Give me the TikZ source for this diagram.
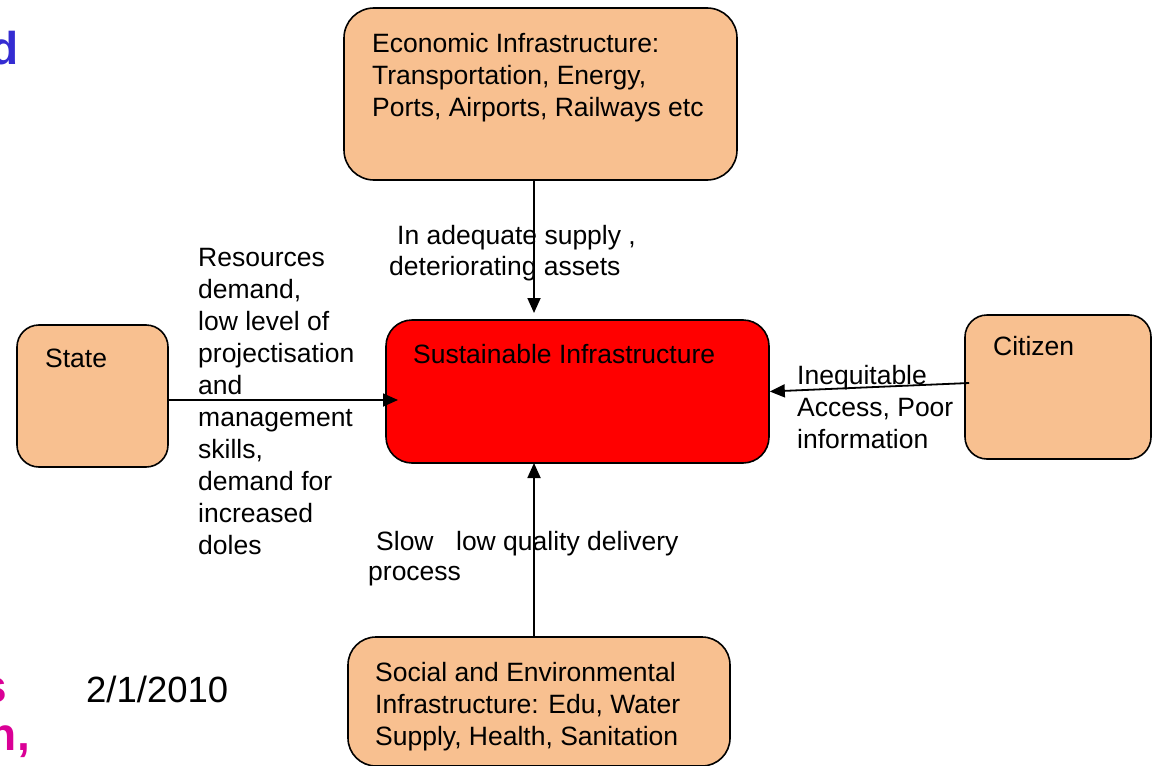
\documentclass[tikz,border=0pt]{standalone}
\usepackage{fontspec}
\setmainfont{Liberation Sans}
\usetikzlibrary{arrows.meta}
\definecolor{peach}{RGB}{248,192,144}
\definecolor{slideblue}{RGB}{52,44,210}
\definecolor{slidemag}{RGB}{218,0,150}
\newcommand{\mlines}[1]{\begin{tabular}[t]{@{}l@{}}#1\end{tabular}}
\tikzset{
  box/.style={draw=black, line width=1.6pt, rounded corners=22pt, inner sep=0pt},
  peachbox/.style={box, fill=peach},
  txt/.style={inner sep=0pt, anchor=base west, font=\fontsize{26.5}{32}\selectfont},
  arr/.style={line width=1.8pt, -{Triangle[length=15pt,width=13pt]}},
  bg/.style={inner sep=0pt, anchor=base east, font=\fontsize{46}{50}\selectfont\bfseries}
}
\begin{document}
\begin{tikzpicture}[x=1pt,y=-1pt]
\clip (0,0) rectangle (1158,765);
\fill[white] (0,0) rectangle (1158,765);
% background slide fragments
\node[bg, text=slideblue] (bgd) at (19,65) {d};
\node[bg, text=slidemag] (bgs) at (7,702) {s};
\node[bg, text=slidemag] (bgn) at (30,750) {n,};
\node[txt, font=\fontsize{36.5}{40}\selectfont] (date) at (86,702) {2/1/2010};
% boxes
\node[peachbox, rounded corners=30pt, minimum width=393pt, minimum height=172pt] (eco) at (540.5,94) {};
\node[box, fill=red, rounded corners=26pt, minimum width=383pt, minimum height=143pt] (sus) at (577.5,391.5) {};
\node[peachbox, minimum width=151pt, minimum height=142pt] (state) at (92.5,396) {};
\node[peachbox, minimum width=186pt, minimum height=144pt] (cit) at (1058,387) {};
\node[peachbox, rounded corners=28pt, minimum width=382pt, minimum height=129pt] (soc) at (539,701.5) {};
% box texts
\node[txt] (ecot) at (372,53) {\mlines{Economic Infrastructure:\\Transportation, Energy,\\Ports, Airports, Railways etc}};
\node[txt] (sust) at (413,363) {Sustainable Infrastructure};
\node[txt] (statet) at (45,367) {State};
\node[txt] (citt) at (993,355) {Citizen};
\node[txt] (soct) at (375,681) {\mlines{Social and Environmental\\Infrastructure: Edu, Water\\Supply, Health, Sanitation}};
% connectors
\coordinate (ta) at (534,313);
\coordinate (la) at (398,400);
\coordinate (ba) at (534,463);
\draw[arr] (eco.south -| ta) -- (ta);
\draw[arr] (state.east |- la) -- (la);
\draw[arr] (soc.north -| ba) -- (ba);
\draw[arr] ([xshift=5pt,yshift=4pt]cit.west) -- (sus.east);
% connector labels
\node[txt] (lt1) at (397,244) {In adequate supply ,};
\node[txt] (lt2) at (389,275) {deteriorating assets};
\node[txt] (ll) at (198,266) {\mlines{Resources\\demand,\\low level of\\projectisation\\and\\management\\skills,\\demand for\\increased\\doles}};
\node[txt] (lr) at (797,384) {\mlines{Inequitable\\Access, Poor\\information}};
\node[txt] (lb1) at (376,550) {Slow\hspace{22.5pt}low quality delivery};
\node[txt] (lb2) at (368,580) {process};
\end{tikzpicture}
\end{document}
